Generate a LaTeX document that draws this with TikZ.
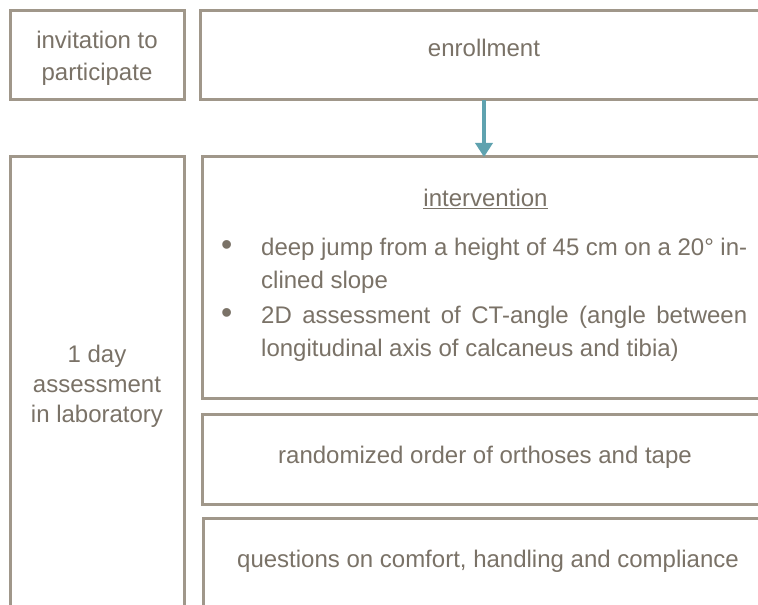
\documentclass[tikz,border=0pt]{standalone}
\usepackage{fontspec}
\setmainfont{Liberation Sans}
\usetikzlibrary{arrows.meta}
\definecolor{boxline}{HTML}{A0978A}
\definecolor{txt}{HTML}{7A7267}
\definecolor{arr}{HTML}{5FA2AF}
\newcommand{\mybul}{\noindent\llap{\makebox[37bp][l]{\fontsize{32bp}{32bp}\selectfont\hspace{-3bp}•}}}
\begin{document}
\begin{tikzpicture}[x=1bp,y=-1bp,
  box/.style={draw=boxline,line width=3bp,fill=white},
  lbl/.style={text=txt,font=\fontsize{24bp}{30bp}\selectfont,inner sep=0pt,anchor=base},
  conn/.style={draw=arr,line width=4bp,-{Triangle[length=14bp,width=17bp]}}]
\useasboundingbox (0,0) rectangle (758,605);
\begin{scope}
\clip (0,0) rectangle (758,605);
% boxes
\path[box] (10.5,10.5) rectangle (184,100) node[pos=0.5] (inv) {};
\path[box] (200,10.5) rectangle (768,100) node[pos=0.5] (enr) {};
\path[box] (10.5,157) rectangle (184,640) node[pos=0.5] (day) {};
\path[box] (202,157) rectangle (770,398) node[pos=0.5] (int) {};
\path[box] (202,414) rectangle (770,504) node[pos=0.5] (ran) {};
\path[box] (203.5,518) rectangle (772,640) node[pos=0.5] (que) {};
\end{scope}
% texts
\node[lbl] (t1a) at (97,49) {invitation to};
\node[lbl] (t1b) at (97,81) {participate};
\node[lbl] (t2) at (484,57) {enrollment};
\node[lbl] (t3a) at (97,362) {1 day};
\node[lbl] (t3b) at (97,392.5) {assessment};
\node[lbl] (t3c) at (97,422) {in laboratory};
\node[lbl] (t4) at (485.5,207) {\underline{intervention}};
\node[text=txt,inner sep=0pt,anchor=north west,text width=486bp,align=justify,
  font=\fontsize{24bp}{33bp}\selectfont] (list) at (261,237.5) {%
  \setlength{\parskip}{2bp}%
  \mybul deep jump from a height of 45 cm on a 20° in-\linebreak clined slope\par
  \mybul 2D assessment of CT-angle (angle between\linebreak longitudinal axis of calcaneus and tibia)};
\node[lbl] (t5) at (485,463) {randomized order of orthoses and tape};
\node[lbl] (t6) at (488,567) {questions on comfort, handling and compliance};
% arrow
\coordinate (a1) at (484,100);
\coordinate (a2) at (484,157);
\draw[conn] (a1) -- (a2);
\end{tikzpicture}
\end{document}
